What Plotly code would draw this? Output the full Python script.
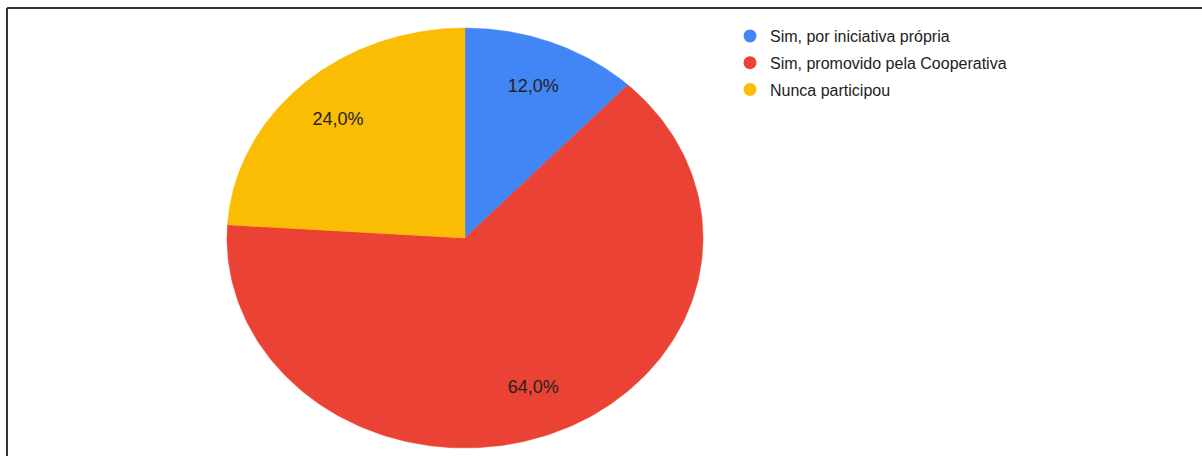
import numpy as np
import plotly.graph_objects as go

categories = ["Sim, por iniciativa própria", "Sim, promovido pela Cooperativa", "Nunca participou"]
values = [12.0, 64.0, 24.0]
colors = ["#4285F4", "#EA4335", "#FBBC04"]
label_texts = ["12,0%", "64,0%", "24,0%"]

W, H = 1202, 456
cx_px, cy_px = 465, 238
rx_px, ry_px = 238, 210

fig = go.Figure()
total = sum(values)
start = 0.0
lab_x, lab_y = [], []
for cat, v, col in zip(categories, values, colors):
    frac = v / total
    a0, a1 = start * 2 * np.pi, (start + frac) * 2 * np.pi
    th = np.linspace(a0, a1, 200)
    xs = np.concatenate([[0], np.sin(th), [0]])
    ys = np.concatenate([[0], np.cos(th), [0]])
    fig.add_trace(go.Scatter(x=xs, y=ys, mode="lines", fill="toself", fillcolor=col,
                             line=dict(color=col, width=0.5), showlegend=False,
                             hoverinfo="skip"))
    mid = (a0 + a1) / 2
    lab_x.append(0.78 * np.sin(mid))
    lab_y.append(0.78 * np.cos(mid) * 0.985)
    start += frac

fig.add_trace(go.Scatter(x=lab_x, y=lab_y, mode="text", text=label_texts,
                         textfont=dict(family="Liberation Sans, Arial", size=18, color="#222222"),
                         showlegend=False, hoverinfo="skip"))

for i, (cat, col) in enumerate(zip(categories, colors)):
    fig.add_trace(go.Scatter(x=[None], y=[None], mode="markers", name=cat,
                             legendgroup=f"g{i}",
                             marker=dict(color=col, size=13, symbol="circle")))

# axis ranges: unit radius -> pixel radius
xr = [-cx_px / rx_px, (W - cx_px) / rx_px]
yr = [-(H - cy_px) / ry_px, cy_px / ry_px]

fig.update_layout(
    width=W, height=H,
    margin=dict(l=0, r=0, t=0, b=0),
    paper_bgcolor="white", plot_bgcolor="white",
    xaxis=dict(range=xr, visible=False, fixedrange=True),
    yaxis=dict(range=yr, visible=False, fixedrange=True),
    showlegend=True,
    legend=dict(x=730 / W, y=1 - 19 / H, xanchor="left", yanchor="top",
                font=dict(family="Liberation Sans, Arial", size=16, color="#222222"),
                traceorder="grouped", tracegroupgap=3, bgcolor="rgba(0,0,0,0)",
                itemwidth=30),
    shapes=[
        dict(type="line", xref="paper", yref="paper", x0=7 / W, x1=1, y0=1 - 8 / H, y1=1 - 8 / H,
             line=dict(color="#333333", width=2)),
        dict(type="line", xref="paper", yref="paper", x0=7 / W, x1=7 / W, y0=0, y1=1 - 8 / H,
             line=dict(color="#333333", width=2)),
    ],
)

fig.write_html("out.html", config={"displayModeBar": False},
               post_script="document.body.style.margin='0';")
